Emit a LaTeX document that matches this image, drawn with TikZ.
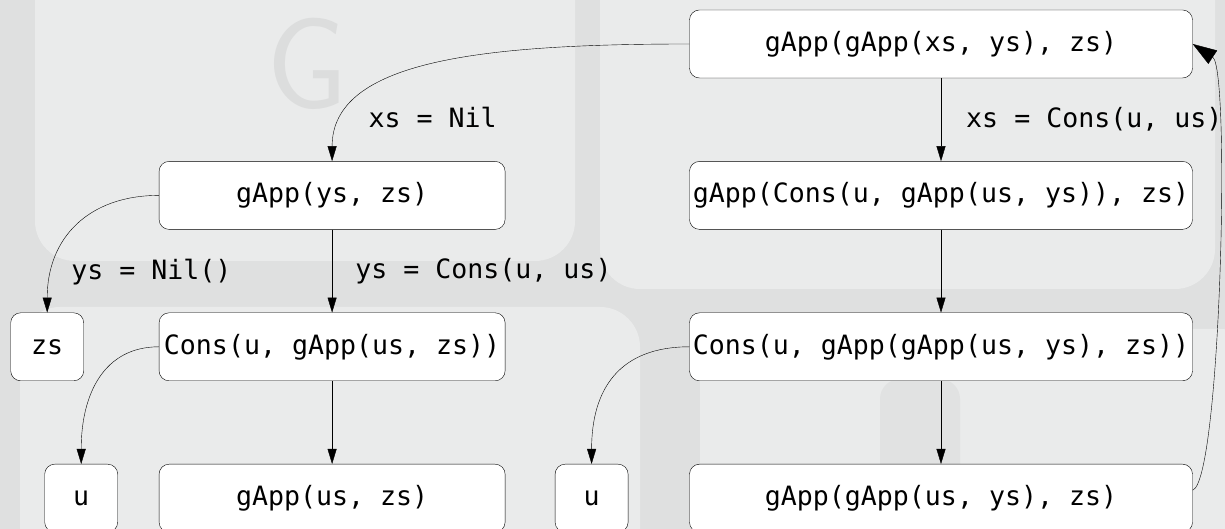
\documentclass[tikz,border=0pt]{standalone}
\usepackage{fontspec}
\setmonofont{DejaVu Sans Mono}
\usetikzlibrary{positioning,arrows.meta}
\definecolor{keybg}{HTML}{DFE0E0}
\definecolor{keyface}{HTML}{EAEBEB}
\definecolor{keymark}{HTML}{DCDDDD}
\tikzset{
	x=1pt, y=1pt,
	-{Triangle[length=15pt,width=9pt]}, line width=1.2pt, node distance=83pt and 75pt,% vertical gap between rows, then side gap
	term/.style={draw, rounded corners=10pt, fill=white, minimum height=68pt, inner sep=0pt, font=\ttfamily\fontsize{26.6}{30}\selectfont},
	wide/.style={term, minimum width=503pt},
	mid/.style={term, minimum width=346pt},
	leaf/.style={term, minimum width=73pt},
	cond/.style={font=\ttfamily\fontsize{26.6}{30}\selectfont, inner sep=0pt},
	back/.style={-{Triangle[length=24pt,width=16pt]}}
}

\begin{document}
\begin{tikzpicture}
	\useasboundingbox (0,0) rectangle (1225,529);
	% keyboard in the back
	\begin{scope}[-]
		\clip (0,0) rectangle (1225,529);
		\fill[keybg] (0,0) rectangle (1225,529);
		\fill[keyface, rounded corners=40pt] (35,268) rectangle (575,600);
		\fill[keyface, rounded corners=40pt] (600,240) rectangle (1215,600);
		\fill[keyface, rounded corners=40pt] (20,-60) rectangle (640,222);
		\fill[keyface, rounded corners=40pt] (700,-60) rectangle (1260,200);
		\fill[keybg!80!keyface, rounded corners=20pt] (880,-30) rectangle (960,150);
		\node[font=\sffamily\fontsize{130}{130}\selectfont, text=keymark, inner sep=0pt] (glyph) at (307,465) {G};
	\end{scope}

	\node[wide] (top) at (941,485) {gApp(gApp(xs, ys), zs)};
	\node[wide] (unfold) [below=of top] {gApp(Cons(u, gApp(us, ys)), zs)};
	\node[wide] (consR) [below=of unfold] {Cons(u, gApp(gApp(us, ys), zs))};
	\node[wide] (recR) [below=of consR] {gApp(gApp(us, ys), zs)};
	\node[mid] (inner) [left=184pt of unfold] {gApp(ys, zs)};
	\node[mid] (consL) [below=of inner] {Cons(u, gApp(us, zs))};
	\node[mid] (recL) [below=of consL] {gApp(us, zs)};
	\node[leaf] (zs) [left=of consL] {zs};
	\node[leaf] (headL) [left=41pt of recL] {u};
	\node[leaf] (headR) [left=61pt of recR] {u};

	\draw (top.west) .. controls +(-210,0) and +(0,100) .. node[cond, pos=0.83, anchor=west, xshift=24pt] (nilA) {xs = Nil} (inner.north);
	\draw (top) -- node[cond, right=25pt] (consA) {xs = Cons(u, us)} (unfold);
	\draw (inner.west) .. controls +(-70,0) and +(0,75) .. node[cond, pos=0.8, anchor=west, xshift=19pt] (nilB) {ys = Nil()} (zs.north);
	\draw (inner) -- node[cond, right=23pt] (consB) {ys = Cons(u, us)} (consL);
	\draw (consL.west) .. controls +(-55,0) and +(0,70) .. (headL.north);
	\draw (consL) -- (recL);
	\draw (unfold) -- (consR);
	\draw (consR.west) .. controls +(-70,0) and +(0,75) .. (headR.north);
	\draw (consR) -- (recR);
	\draw[back] ([yshift=8pt]recR.east) .. controls +(28,10) and +(38,-25) .. (top.east);
\end{tikzpicture}
\end{document}
